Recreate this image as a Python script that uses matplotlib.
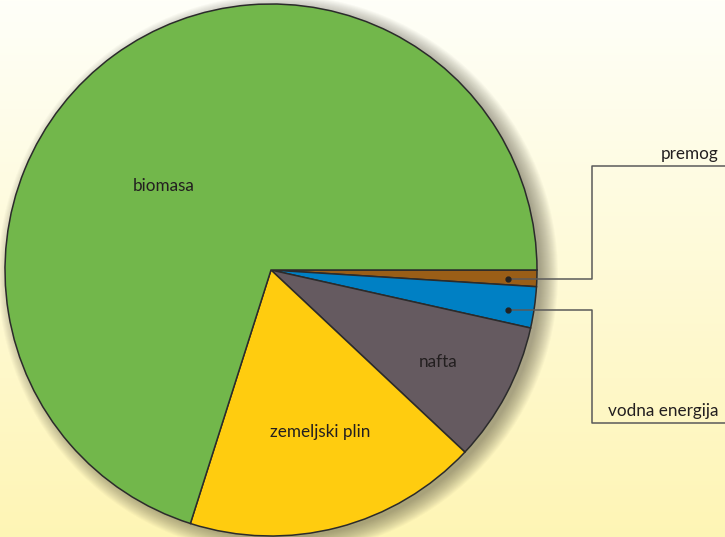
import matplotlib
matplotlib.use("Agg")
import matplotlib.pyplot as plt
import numpy as np
from matplotlib.patches import Circle

# energy sources, percent share (clockwise from 3 o'clock)
sources = ['premog', 'vodna energija', 'nafta', 'zemeljski plin', 'biomasa']
shares = [1.0, 2.5, 8.5, 17.9, 70.1]
colors = ['#9A5E17', '#0080C4', '#655A60', '#FFCC0F', '#72B74B']

W, H = 725, 537
fig = plt.figure(figsize=(W / 100, H / 100), dpi=100)
ax = fig.add_axes([0, 0, 1, 1])

# background gradient, white on top to pale yellow at the bottom
top = np.array([1.0, 1.0, 0.975])
bot = np.array([0.996, 0.961, 0.71])
t = np.linspace(0, 1, 256)[:, None]
grad = top * (1 - t) + bot * t
ax.imshow(grad[:, None, :], extent=[0, W, 0, H], aspect='auto', zorder=0)

cx, cy, R = 271, 267, 266

# soft drop shadow behind the pie, pushed to the lower right
for k in range(18):
    ax.add_patch(Circle((cx + 7, cy - 5), R + 14 - k, color='#4a4636',
                        alpha=0.03, lw=0, zorder=1))

wedges, _ = ax.pie(shares, colors=colors, startangle=0, counterclock=False,
                   center=(cx, cy), radius=R, frame=True,
                   wedgeprops=dict(edgecolor='#2b2b2b', linewidth=1.1))
for w in wedges:
    w.set_zorder(2)

font = ['Lato', 'DejaVu Sans']
fs = 12.3
tc = '#231f20'
ax.text(164, H - 186, 'biomasa', fontsize=fs, family=font, color=tc,
        ha='center', va='center', zorder=3)
ax.text(438, H - 362, 'nafta', fontsize=fs, family=font, color=tc,
        ha='center', va='center', zorder=3)
ax.text(320, H - 432, 'zemeljski plin', fontsize=fs, family=font, color=tc,
        ha='center', va='center', zorder=3)

# leader lines for the two thin slices
lc = '#5a5a5a'
ax.plot([508.5, 592, 592, W], [H - 279, H - 279, H - 166, H - 166],
        color=lc, lw=1.1, zorder=3)
ax.plot([508.5, 592, 592, W], [H - 310, H - 310, H - 423, H - 423],
        color=lc, lw=1.1, zorder=3)
ax.plot([508.5, 508.5], [H - 279, H - 310], 'o', color='#222222', ms=3.5, zorder=4)
ax.text(719, H - 154, 'premog', fontsize=fs, family=font, color=tc,
        ha='right', va='center', zorder=3)
ax.text(719, H - 411, 'vodna energija', fontsize=fs, family=font, color=tc,
        ha='right', va='center', zorder=3)

ax.set_xlim(0, W)
ax.set_ylim(0, H)
ax.set_aspect('auto')
ax.axis('off')

fig.savefig('out.png', dpi=100)
